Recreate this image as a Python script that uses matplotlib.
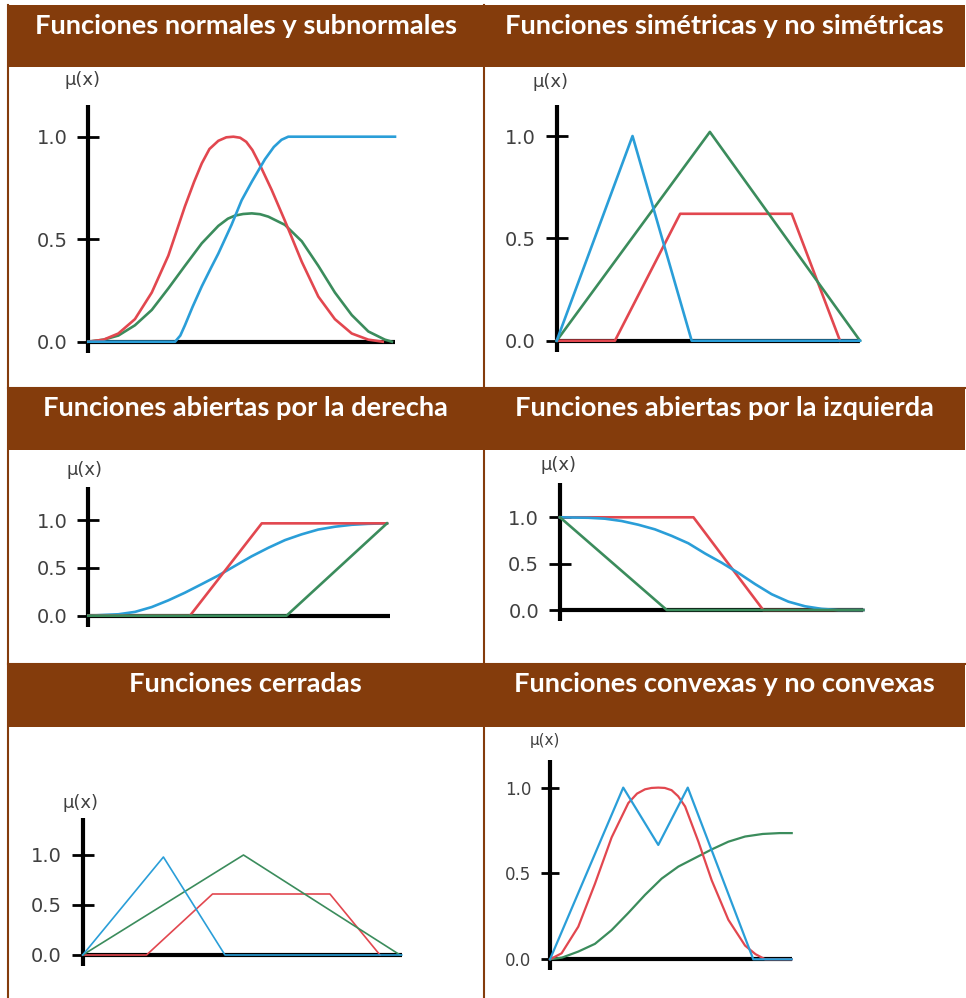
import matplotlib
matplotlib.use('Agg')
import matplotlib.pyplot as plt
from matplotlib.patches import Rectangle
from matplotlib.lines import Line2D

W, H = 966, 998
BROWN = '#843c0c'
RED = '#e2474f'
BLUE = '#2a9ed8'
GREEN = '#3b8c5c'

titles = ['Funciones normales y subnormales', 'Funciones simétricas y no simétricas',
          'Funciones abiertas por la derecha', 'Funciones abiertas por la izquierda',
          'Funciones cerradas', 'Funciones convexas y no convexas']
tick_vals = [0.0, 0.5, 1.0]
tick_labels = ['0.0', '0.5', '1.0']

# normales y subnormales
n_red_x = [0, 0.5, 0.98, 1.52, 2.07, 2.61, 3.15, 3.45, 3.7, 3.95, 4.24, 4.5, 4.73, 4.95, 5.15, 5.35,
           5.54, 5.98, 6.41, 6.96, 7.5, 8.04, 8.59, 9.13, 9.6]
n_red_y = [0, 0.01, 0.04, 0.11, 0.24, 0.42, 0.66, 0.78, 0.87, 0.94, 0.98, 0.997, 1.0, 0.995, 0.975, 0.935,
           0.88, 0.74, 0.59, 0.39, 0.22, 0.11, 0.04, 0.01, 0]
n_blue_x = [0, 2.83, 3.0, 3.15, 3.4, 3.7, 4.0, 4.24, 4.67, 5.0, 5.33, 5.76, 6.05, 6.3, 6.52, 10]
n_blue_y = [0, 0, 0.03, 0.08, 0.17, 0.27, 0.36, 0.43, 0.57, 0.69, 0.78, 0.89, 0.95, 0.985, 1.0, 1.0]
n_green_x = [0, 0.5, 0.98, 1.52, 2.07, 2.61, 3.15, 3.7, 4.24, 4.55, 4.78, 5.05, 5.33, 5.6, 5.87, 6.41,
             6.96, 7.5, 8.04, 8.59, 9.13, 9.67, 9.9]
n_green_y = [0, 0.01, 0.03, 0.08, 0.155, 0.26, 0.37, 0.48, 0.565, 0.6, 0.615, 0.623, 0.626, 0.622, 0.61,
             0.57, 0.49, 0.37, 0.24, 0.13, 0.05, 0.01, 0]

# simetricas y no simetricas
s_blue_x = [0, 2.5, 4.45, 10]
s_blue_y = [0, 1.0, 0, 0]
s_green_x = [0, 5.05, 10]
s_green_y = [0, 1.02, 0]
s_red_x = [0, 1.92, 4.07, 7.75, 9.34]
s_red_y = [0, 0, 0.62, 0.62, 0]

# abiertas por la derecha
d_blue_x = [0, 1, 1.55, 2.1, 2.65, 3.2, 3.76, 4.31, 4.86, 5.41, 5.97, 6.52, 7.07, 7.62, 8.18,
            8.73, 9.28, 9.9]
d_blue_y = [0, 0.015, 0.04, 0.09, 0.16, 0.24, 0.33, 0.42, 0.52, 0.62, 0.71, 0.79, 0.85, 0.9, 0.93,
            0.95, 0.96, 0.965]
d_red_x = [0, 3.37, 5.75, 9.9]
d_red_y = [0, 0, 0.965, 0.965]
d_green_x = [0, 6.57, 9.9]
d_green_y = [0, 0, 0.965]

# abiertas por la izquierda
i_red_x = [0, 4.4, 6.7, 10]
i_red_y = [1, 1, 0, 0]
i_blue_x = [0, 0.93, 1.48, 2.03, 2.58, 3.13, 3.68, 4.23, 4.78, 5.33, 5.88, 6.43, 6.98, 7.53, 8.08,
            8.63, 9.18, 10]
i_blue_y = [1, 0.995, 0.985, 0.96, 0.92, 0.87, 0.8, 0.72, 0.61, 0.51, 0.4, 0.28, 0.17, 0.09, 0.04,
            0.012, 0, 0]
i_green_x = [0, 3.52, 10]
i_green_y = [1, 0, 0]

# cerradas
c_blue_x = [0, 2.53, 4.46, 10]
c_blue_y = [0, 0.98, 0, 0]
c_green_x = [0, 5.04, 9.95]
c_green_y = [0, 1.0, 0]
c_red_x = [0, 2.0, 4.07, 7.75, 9.32]
c_red_y = [0, 0, 0.61, 0.61, 0]

# convexas y no convexas
v_blue_x = [0, 3.03, 4.48, 5.7, 8.41, 10]
v_blue_y = [0, 1.0, 0.666, 1.0, 0, 0]
v_red_x = [0, 0.48, 1.17, 1.86, 2.55, 3.24, 3.6, 3.93, 4.2, 4.48, 4.75, 5.03, 5.3, 5.59, 6.14, 6.69,
           7.38, 8.07, 8.5, 8.9, 10]
v_red_y = [0, 0.035, 0.19, 0.44, 0.71, 0.91, 0.965, 0.99, 0.998, 1.0, 0.998, 0.985, 0.95, 0.89, 0.685,
           0.46, 0.23, 0.08, 0.03, 0, 0]
v_green_x = [0, 0.5, 1.17, 1.86, 2.55, 3.24, 3.93, 4.62, 5.31, 6.0, 6.69, 7.38, 8.07, 8.8, 9.5, 10]
v_green_y = [0, 0.01, 0.045, 0.09, 0.17, 0.27, 0.375, 0.47, 0.54, 0.59, 0.64, 0.685, 0.715, 0.73,
             0.735, 0.735]

panels = [
    [(n_green_x, n_green_y, GREEN), (n_red_x, n_red_y, RED), (n_blue_x, n_blue_y, BLUE)],
    [(s_red_x, s_red_y, RED), (s_green_x, s_green_y, GREEN), (s_blue_x, s_blue_y, BLUE)],
    [(d_blue_x, d_blue_y, BLUE), (d_red_x, d_red_y, RED), (d_green_x, d_green_y, GREEN)],
    [(i_red_x, i_red_y, RED), (i_blue_x, i_blue_y, BLUE), (i_green_x, i_green_y, GREEN)],
    [(c_red_x, c_red_y, RED), (c_green_x, c_green_y, GREEN), (c_blue_x, c_blue_y, BLUE)],
    [(v_green_x, v_green_y, GREEN), (v_red_x, v_red_y, RED), (v_blue_x, v_blue_y, BLUE)],
]

# pixel layout: origin (from top-left), px per unit, top of y axis, mu label, font size, line width
layout = [
    dict(ox=88.3, oy=341.7, sx=30.67, sy=205.0, top=1.155, mu=(83, 80), fs=14, lw=1.9),
    dict(ox=556.7, oy=340.7, sx=30.33, sy=204.7, top=1.15, mu=(550, 82), fs=14, lw=1.9),
    dict(ox=88.3, oy=615.7, sx=30.17, sy=95.7, top=1.34, mu=(85, 470), fs=14, lw=1.9),
    dict(ox=560.0, oy=610.0, sx=30.33, sy=92.7, top=1.37, mu=(558, 465), fs=14, lw=1.9),
    dict(ox=82.7, oy=955.0, sx=31.9, sy=100.0, top=1.37, mu=(80, 803), fs=14, lw=1.2),
    dict(ox=550.0, oy=959.3, sx=24.17, sy=171.7, top=1.16, mu=(545, 740), fs=12, lw=1.6),
]

header_rows = [(5, 67), (388, 450), (664, 727)]
col_x = [7.5, 484, 965]

fig = plt.figure(figsize=(W / 100, H / 100), dpi=100)
fig.patch.set_facecolor('white')

# table grid
for x in col_x[:2]:
    fig.add_artist(Line2D([x / W, x / W], [0, 1 - 5 / H], color=BROWN, lw=1.5, transform=fig.transFigure))
for y in [388, 664]:
    fig.add_artist(Line2D([7.5 / W, 965 / W], [1 - y / H, 1 - y / H], color=BROWN, lw=1.5,
                          transform=fig.transFigure))
for r, (y0, y1) in enumerate(header_rows):
    fig.add_artist(Rectangle((7.5 / W, 1 - y1 / H), (965 - 7.5) / W, (y1 - y0) / H,
                             facecolor=BROWN, edgecolor='none', transform=fig.transFigure))
    for c in range(2):
        cx = (col_x[c] + col_x[c + 1]) / 2
        fig.text(cx / W, 1 - (y0 + 20.5) / H, titles[2 * r + c], ha='center', va='center',
                 color='white', fontweight='bold', family=['Lato', 'DejaVu Sans'], fontsize=19.6)

for spec, curves in zip(layout, panels):
    sx, sy = spec['sx'], spec['sy']
    xmin, xmax = -0.8, 10.5
    ymin, ymax = -0.25, spec['top'] + 0.05
    left = spec['ox'] + xmin * sx
    bottom = (H - spec['oy']) + ymin * sy
    ax = fig.add_axes([left / W, bottom / H, (xmax - xmin) * sx / W, (ymax - ymin) * sy / H])
    ax.set_xlim(xmin, xmax)
    ax.set_ylim(ymin, ymax)
    ax.patch.set_alpha(0)
    for side in ['top', 'right']:
        ax.spines[side].set_visible(False)
    ax.spines['left'].set_position(('data', 0))
    ax.spines['bottom'].set_position(('data', 0))
    ax.spines['left'].set_bounds(-11 / sy, spec['top'])
    ax.spines['bottom'].set_bounds(0, 10)
    for side in ['left', 'bottom']:
        ax.spines[side].set_linewidth(3)
        ax.spines[side].set_capstyle('butt')
    ax.set_xticks([])
    ax.set_yticks(tick_vals)
    ax.set_yticklabels(tick_labels)
    tl = 16 if spec['fs'] == 14 else 13
    ax.tick_params(axis='y', direction='inout', length=tl, width=2, pad=7,
                   labelsize=spec['fs'], labelcolor='#404040')
    for x, y, col in curves:
        ax.plot(x, y, color=col, lw=spec['lw'], zorder=3, clip_on=False)
    mx, my = spec['mu']
    fig.text(mx / W, 1 - my / H, 'μ(x)', ha='center', va='center', color='#404040',
             fontsize=spec['fs'] - 1)

fig.savefig('out.png', dpi=100)
